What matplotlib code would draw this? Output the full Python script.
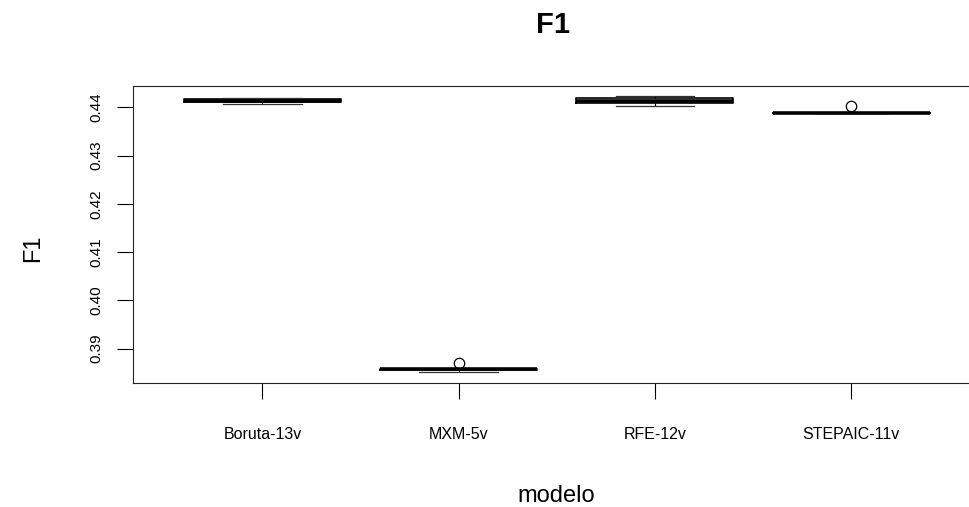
import matplotlib
matplotlib.use("Agg")
import matplotlib.pyplot as plt

plt.rcParams["font.family"] = ["Liberation Sans", "DejaVu Sans"]

# F1 score summary per feature-selection model
modelos = ["Boruta-13v", "MXM-5v", "RFE-12v", "STEPAIC-11v"]
whislo = [0.4406, 0.3852, 0.4402, 0.4388]
q1 = [0.4410, 0.3855, 0.4409, 0.4388]
mediana = [0.4414, 0.3857, 0.4414, 0.4388]
q3 = [0.4418, 0.3858, 0.4419, 0.4388]
whishi = [0.4420, 0.3858, 0.4423, 0.4388]
atipicos = [[], [0.3870], [], [0.4403]]
yticks = [0.39, 0.40, 0.41, 0.42, 0.43, 0.44]

stats = []
for i, m in enumerate(modelos):
    stats.append(dict(label=m, whislo=whislo[i], q1=q1[i], med=mediana[i],
                      q3=q3[i], whishi=whishi[i], fliers=atipicos[i]))

W, H = 969, 507
fig = plt.figure(figsize=(W / 100, H / 100), dpi=100)
ax = fig.add_axes([133 / W, 1 - 383 / H, 847.6 / W, (383 - 86) / H])

pos = list(range(1, len(modelos) + 1))
ax.bxp(stats, positions=pos, widths=0.8, capwidths=0.4,
       boxprops=dict(color="black", linewidth=1.2),
       medianprops=dict(color="black", linewidth=2.6, solid_capstyle="butt"),
       whiskerprops=dict(color="black", linewidth=0.8, linestyle=(0, (4, 3))),
       capprops=dict(color="#333333", linewidth=0.9),
       flierprops=dict(marker="o", markersize=7.5, markerfacecolor="white",
                       markeredgecolor="black", markeredgewidth=0.9),
       patch_artist=False)

ax.set_xlim(0.34, 4.66)
ax.set_ylim(0.38289, 0.44441)
ax.set_xticks(pos)
ax.set_xticklabels(modelos, fontsize=11.5)
ax.set_yticks(yticks)
ax.set_yticklabels([f"{v:.2f}" for v in yticks], fontsize=11, rotation=90,
                   va="center")
ax.tick_params(axis="x", length=11.5, width=0.8, pad=20)
ax.tick_params(axis="y", length=11.5, width=0.8, pad=10)
for s in ax.spines.values():
    s.set_linewidth(0.8)
    s.set_color("#222222")
ax.spines["right"].set_visible(False)

fig.text(553 / W, 1 - 33 / H, "F1", fontsize=21, fontweight="bold",
         ha="center", va="baseline")
fig.text(556 / W, 1 - 502 / H, "modelo", fontsize=17,
         ha="center", va="baseline")
fig.text(33 / W, 1 - 235 / H, "F1", fontsize=17, rotation=90,
         ha="right", va="center", rotation_mode="anchor")

fig.savefig("out.png", dpi=100)
